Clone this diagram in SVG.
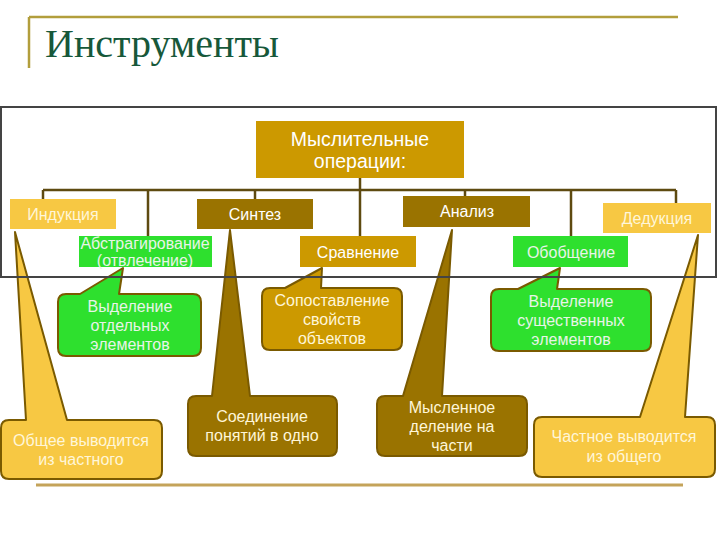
<svg xmlns="http://www.w3.org/2000/svg" width="720" height="540" viewBox="0 0 720 540">
<style>
text{font-family:"Liberation Sans",Arial,sans-serif;text-anchor:middle}
.t{font-size:16px}
.mid{fill:#CC9900}
.dark{fill:#9A7300}
.light{fill:#F7C843}
.green{fill:#2EE02E}
.co{stroke:#7A5A00;stroke-width:2;stroke-linejoin:round}
.wt{fill:#FFFFFF}
.lt{fill:#FFF6D8}
.gt{fill:#E8F4E8}
.conn{stroke:#5E4A10;stroke-width:2.5;fill:none}
</style>
<rect width="720" height="540" fill="#FFFFFF"/>
<g id="title">
<line x1="29" y1="17" x2="678" y2="17" stroke="#B29E3C" stroke-width="2.5"/>
<line x1="29" y1="17" x2="29" y2="68" stroke="#B29E3C" stroke-width="2.5"/>
<text x="45" y="57" style="font-family:'Liberation Serif','Times New Roman',serif;font-size:40px;text-anchor:start;fill:#17583A">Инструменты</text>
</g>
<g id="connectors" class="conn">
<line x1="360" y1="178" x2="360" y2="190"/>
<line x1="43" y1="190" x2="676" y2="190"/>
<line x1="43" y1="190" x2="43" y2="199"/>
<line x1="148" y1="190" x2="148" y2="236"/>
<line x1="255" y1="190" x2="255" y2="199"/>
<line x1="360" y1="190" x2="360" y2="236"/>
<line x1="465" y1="190" x2="465" y2="196"/>
<line x1="571" y1="190" x2="571" y2="236"/>
<line x1="676" y1="190" x2="676" y2="203"/>
</g>
<g id="callout-abstr">
<path class="green co" d="M66,294 L80,294 L123,268 L119,294 L193,294 Q201,294 201,302 L201,348 Q201,356 193,356 L66,356 Q58,356 58,348 L58,302 Q58,294 66,294 Z"/>
<text class="t gt" x="130" y="312">Выделение</text>
<text class="t gt" x="130" y="331">отдельных</text>
<text class="t gt" x="130" y="350">элементов</text>
</g>
<g id="callout-ind">
<path class="light co" d="M9,420 L26,420 L15,232 L67,420 L154,420 Q162,420 162,428 L162,471 Q162,479 154,479 L9,479 Q1,479 1,471 L1,428 Q1,420 9,420 Z"/>
<text class="t lt" x="81" y="446">Общее выводится</text>
<text class="t lt" x="81" y="465">из частного</text>
</g>
<g id="callout-sint">
<path class="dark co" d="M196,396 L212,396 L230,230 L250,396 L329,396 Q337,396 337,404 L337,448 Q337,456 329,456 L196,456 Q188,456 188,448 L188,404 Q188,396 196,396 Z"/>
<text class="t lt" x="262" y="422">Соединение</text>
<text class="t lt" x="262" y="441">понятий в одно</text>
</g>
<g id="callout-sravn">
<path class="mid co" d="M270,288 L285,288 L322,268 L321,288 L394,288 Q402,288 402,296 L402,342 Q402,350 394,350 L270,350 Q262,350 262,342 L262,296 Q262,288 270,288 Z"/>
<text class="t lt" x="332" y="306">Сопоставление</text>
<text class="t lt" x="332" y="325">свойств</text>
<text class="t lt" x="332" y="344">объектов</text>
</g>
<g id="callout-obob">
<path class="green co" d="M499,289 L518,289 L560,268 L557,289 L643,289 Q651,289 651,297 L651,343 Q651,351 643,351 L499,351 Q491,351 491,343 L491,297 Q491,289 499,289 Z"/>
<text class="t gt" x="571" y="307">Выделение</text>
<text class="t gt" x="571" y="326">существенных</text>
<text class="t gt" x="571" y="345">элементов</text>
</g>
<g id="callout-anal">
<path class="dark co" d="M385,396 L403,396 L452,230 L442,396 L519,396 Q527,396 527,404 L527,448 Q527,456 519,456 L385,456 Q377,456 377,448 L377,404 Q377,396 385,396 Z"/>
<text class="t lt" x="452" y="413">Мысленное</text>
<text class="t lt" x="452" y="432">деление на</text>
<text class="t lt" x="452" y="451">части</text>
</g>
<g id="callout-ded">
<path class="light co" d="M542,417 L640,417 L698,235 L685,417 L707,417 Q715,417 715,425 L715,469 Q715,477 707,477 L542,477 Q534,477 534,469 L534,425 Q534,417 542,417 Z"/>
<text class="t lt" x="624" y="442">Частное выводится</text>
<text class="t lt" x="624" y="462">из общего</text>
</g>
<g id="node-root">
<rect class="mid" x="256" y="121" width="208" height="57"/>
<text class="wt" x="360" y="146" style="font-size:19.5px">Мыслительные</text>
<text class="wt" x="360" y="168" style="font-size:19.5px">операции:</text>
</g>
<g id="node-ind">
<rect class="light" x="10" y="199" width="106" height="30"/>
<text class="t lt" x="63" y="220">Индукция</text>
</g>
<g id="node-sint">
<rect class="dark" x="197" y="199" width="116" height="30"/>
<text class="t wt" x="255" y="220">Синтез</text>
</g>
<g id="node-anal">
<rect class="dark" x="403" y="196" width="127" height="31"/>
<text class="t wt" x="467" y="217">Анализ</text>
</g>
<g id="node-ded">
<rect class="light" x="603" y="203" width="108" height="30"/>
<text class="t lt" x="657" y="224">Дедукция</text>
</g>
<g id="node-abstr">
<rect class="green" x="79" y="236" width="133" height="31"/>
<text class="t gt" x="145" y="249">Абстрагирование</text>
<text class="t gt" x="145" y="266">(отвлечение)</text>
</g>
<g id="node-sravn">
<rect class="mid" x="300" y="236" width="116" height="31"/>
<text class="t wt" x="358" y="258">Сравнение</text>
</g>
<g id="node-obob">
<rect class="green" x="513" y="236" width="115" height="31"/>
<text class="t gt" x="571" y="258">Обобщение</text>
</g>
<g id="frame">
<rect x="1" y="107" width="715" height="170" fill="none" stroke="#444444" stroke-width="2"/>
<line x1="36" y1="485" x2="683" y2="485" stroke="#C4A35A" stroke-width="3"/>
</g>
</svg>
